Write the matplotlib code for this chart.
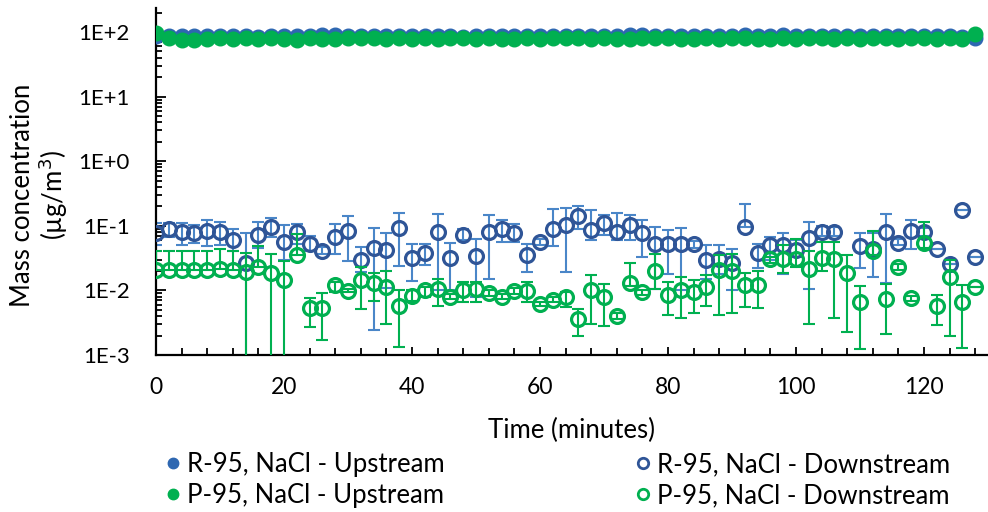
import numpy as np
import matplotlib.pyplot as plt
from matplotlib.lines import Line2D
from matplotlib.ticker import FixedLocator, FuncFormatter, LogLocator, MultipleLocator, NullFormatter

plt.rcParams['font.family'] = ['Lato', 'DejaVu Sans']

# time (minutes)
time = [0, 2, 4, 6, 8, 10, 12, 14, 16, 18, 20, 22, 24, 26, 28, 30, 32, 34, 36, 38,
        40, 42, 44, 46, 48, 50, 52, 54, 56, 58, 60, 62, 64, 66, 68, 70, 72, 74, 76, 78,
        80, 82, 84, 86, 88, 90, 92, 94, 96, 98, 100, 102, 104, 106, 108, 110, 112, 114, 116, 118,
        120, 122, 124, 126, 128]

# upstream mass concentration (ug/m3)
r_up = [88, 86, 87, 88, 86, 87, 88, 86, 85, 87, 86, 88, 87, 89, 90, 88, 87, 86, 88, 87,
        86, 87, 88, 86, 85, 87, 86, 88, 87, 86, 87, 86, 88, 87, 86, 87, 88, 90, 89, 87,
        88, 86, 87, 88, 86, 87, 90, 88, 87, 89, 88, 87, 86, 88, 87, 86, 87, 88, 86, 87,
        86, 88, 86, 84, 80]
p_up = [95, 82, 76, 75, 78, 80, 78, 80, 79, 81, 78, 76, 80, 79, 77, 80, 82, 80, 79, 80,
        78, 80, 79, 80, 81, 79, 80, 79, 78, 80, 79, 80, 81, 80, 79, 80, 77, 79, 80, 81,
        80, 79, 78, 80, 79, 80, 81, 78, 77, 80, 79, 80, 81, 79, 80, 79, 80, 81, 79, 80,
        81, 79, 80, 78, 92]
r_up_err = [5] * 65
p_up_err = [9] * 65

# downstream: value, upper end and lower end of the error bar
r_dn = [0.077, 0.088, 0.079, 0.077, 0.083, 0.081, 0.060, 0.027, 0.072, 0.097,
        0.057, 0.081, 0.052, 0.040, 0.068, 0.084, 0.030, 0.046, 0.042, 0.091,
        0.032, 0.038, 0.081, 0.032, 0.072, 0.034, 0.081, 0.088, 0.078, 0.035,
        0.057, 0.088, 0.103, 0.143, 0.086, 0.112, 0.081, 0.103, 0.077, 0.052,
        0.052, 0.052, 0.052, 0.030, 0.031, 0.027, 0.097, 0.038, 0.051, 0.051,
        0.042, 0.064, 0.081, 0.081, np.nan, 0.049, 0.043, 0.081, 0.055, 0.084,
        0.081, 0.043, 0.026, 0.176, 0.033]
r_hi = [0.109, 0.110, 0.112, 0.103, 0.123, 0.116, 0.088, 0.077, 0.116, 0.130,
        0.103, 0.105, 0.070, 0.047, 0.105, 0.141, 0.047, 0.091, 0.077, 0.155,
        0.052, 0.053, 0.151, 0.055, 0.088, 0.062, 0.147, 0.125, 0.105, 0.053,
        0.063, 0.180, 0.186, 0.200, 0.175, 0.147, 0.159, 0.147, 0.123, 0.097,
        0.086, 0.091, 0.058, 0.050, 0.050, 0.043, 0.216, 0.053, 0.068, 0.078,
        0.060, 0.116, 0.100, 0.095, np.nan, 0.077, 0.078, 0.151, 0.062, 0.125,
        0.092, 0.043, 0.026, 0.176, 0.033]
r_lo = [0.050, 0.066, 0.050, 0.055, 0.048, 0.050, 0.040, 0.0004, 0.045, 0.068,
        0.030, 0.053, 0.040, 0.036, 0.036, 0.029, 0.019, 0.0024, 0.011, 0.024,
        0.014, 0.025, 0.010, 0.010, 0.060, 0.008, 0.015, 0.057, 0.057, 0.019,
        0.051, 0.049, 0.019, 0.088, 0.060, 0.072, 0.060, 0.060, 0.033, 0.0105,
        0.018, 0.010, 0.046, 0.015, 0.018, 0.010, 0.097, 0.022, 0.030, 0.018,
        0.033, 0.0105, 0.070, 0.070, np.nan, 0.022, 0.016, 0.013, 0.050, 0.043,
        0.070, 0.043, 0.026, 0.176, 0.033]

p_dn = [0.0207, 0.0207, 0.0207, 0.0207, 0.0207, 0.0215, 0.0207, 0.0190, 0.0233, 0.0183,
        0.0145, 0.0355, 0.0053, 0.0053, 0.0121, 0.0099, 0.0145, 0.0129, 0.0112, 0.0057,
        0.0082, 0.0101, 0.0104, 0.0080, 0.0101, 0.0104, 0.0090, 0.0080, 0.0099, 0.0099,
        0.0062, 0.0071, 0.0080, 0.0036, 0.0101, 0.0078, 0.0040, 0.0129, 0.0093, 0.0200,
        0.0085, 0.0101, 0.0095, 0.0114, 0.0207, 0.0202, 0.0121, 0.0123, 0.0303, 0.0303,
        0.0303, 0.0212, 0.0314, 0.0303, 0.0188, 0.0065, 0.0407, 0.0073, 0.0233, 0.0075,
        0.0536, 0.0057, 0.0160, 0.0065, 0.0114]
p_hi = [0.041, 0.041, 0.041, 0.041, 0.041, 0.043, 0.041, 0.038, 0.049, 0.037,
        0.029, 0.075, 0.0077, 0.0090, 0.0136, 0.0105, 0.0233, 0.0183, 0.0200, 0.0101,
        0.0101, 0.0114, 0.0148, 0.0088, 0.0136, 0.0136, 0.0100, 0.0088, 0.0110, 0.0136,
        0.0066, 0.0078, 0.0093, 0.0051, 0.0173, 0.0126, 0.0044, 0.0268, 0.0100, 0.0372,
        0.0136, 0.0159, 0.0145, 0.0173, 0.0355, 0.0366, 0.0187, 0.0202, 0.0330, 0.0505,
        0.0617, 0.0400, 0.0565, 0.0565, 0.0355, 0.0117, 0.0840, 0.0124, 0.0260, 0.0082,
        0.116, 0.0085, 0.0296, 0.0121, 0.0114]
p_lo = [0.0207, 0.0207, 0.0207, 0.0207, 0.0207, 0.0215, 0.0207, 0.0004, 0.0233, 0.0004,
        0.0004, 0.0355, 0.0027, 0.0017, 0.0093, 0.0093, 0.0052, 0.0069, 0.0030, 0.00135,
        0.0068, 0.0080, 0.0057, 0.0073, 0.0067, 0.0067, 0.0082, 0.0073, 0.0088, 0.0067,
        0.0057, 0.0065, 0.0056, 0.0020, 0.0030, 0.0028, 0.0036, 0.0118, 0.0086, 0.0105,
        0.0042, 0.0037, 0.0044, 0.0057, 0.0042, 0.0045, 0.0056, 0.0054, 0.0270, 0.0183,
        0.0233, 0.0030, 0.0200, 0.0037, 0.0023, 0.00122, 0.0350, 0.0021, 0.0210, 0.0069,
        0.045, 0.0029, 0.0020, 0.00127, 0.0114]

labels = ['R-95, NaCl - Upstream', 'P-95, NaCl - Upstream',
          'R-95, NaCl - Downstream', 'P-95, NaCl - Downstream']

blue_up = '#2E67B1'
blue_dn = '#2F5597'
blue_bar = '#4A86C8'
green = '#00B050'

r_dn_a, r_hi_a, r_lo_a = np.array(r_dn), np.array(r_hi), np.array(r_lo)
p_dn_a, p_hi_a, p_lo_a = np.array(p_dn), np.array(p_hi), np.array(p_lo)

fig = plt.figure(figsize=(9.88, 5.12), dpi=100)
ax = fig.add_axes([156 / 988, 1 - 355 / 512, 832 / 988, 347 / 512])

# upstream
ax.errorbar(time, r_up, yerr=r_up_err, fmt='none', ecolor=blue_bar, elinewidth=1.4, capsize=4, capthick=1.4, zorder=2)
ax.plot(time, r_up, 'o', ms=10.5, mfc=blue_up, mec=blue_up, zorder=3)
ax.errorbar(time, p_up, yerr=p_up_err, fmt='none', ecolor=green, elinewidth=1.4, capsize=4, capthick=1.4, zorder=4)
ax.plot(time, p_up, 'o', ms=10.5, mfc=green, mec=green, zorder=5)

# downstream
ax.errorbar(time, r_dn, yerr=[r_dn_a - r_lo_a, r_hi_a - r_dn_a], fmt='none', ecolor=blue_bar,
            elinewidth=1.5, capsize=4.5, capthick=1.5, zorder=2)
ax.plot(time, r_dn, 'o', ms=10, mfc='none', mec=blue_dn, mew=2.3, zorder=3)
ax.errorbar(time, p_dn, yerr=[p_dn_a - p_lo_a, p_hi_a - p_dn_a], fmt='none', ecolor=green,
            elinewidth=1.5, capsize=4.5, capthick=1.5, zorder=4)
ax.plot(time, p_dn, 'o', ms=10, mfc='none', mec=green, mew=2.3, zorder=5)

ax.set_yscale('log')
ax.set_ylim(1e-3, 235)
ax.set_xlim(0, 130)

ax.yaxis.set_major_locator(FixedLocator([1e-3, 1e-2, 1e-1, 1, 10, 100]))
ax.yaxis.set_major_formatter(FuncFormatter(lambda v, p: '1E%+d' % round(np.log10(v))))
ax.yaxis.set_minor_locator(LogLocator(base=10, subs=np.arange(2, 10)))
ax.yaxis.set_minor_formatter(NullFormatter())
ax.xaxis.set_major_locator(MultipleLocator(20))
ax.xaxis.set_minor_locator(MultipleLocator(4))

ax.spines['top'].set_visible(False)
ax.spines['right'].set_visible(False)
ax.spines['left'].set_linewidth(1.6)
ax.spines['bottom'].set_linewidth(1.6)
ax.tick_params(which='both', direction='in', width=1.3, colors='black')
ax.tick_params(axis='y', which='major', length=7, pad=19, labelsize=16)
ax.tick_params(axis='y', which='minor', length=4.5)
ax.tick_params(axis='x', which='major', length=6, pad=16, labelsize=16.5)
ax.tick_params(axis='x', which='minor', length=5)

ax.set_xlabel('Time (minutes)', fontsize=18.5)
ax.xaxis.set_label_coords(0.5, -0.18)
ax.set_ylabel('Mass concentration\n(µg/m$^3$)', fontsize=18.5, linespacing=1.05)
ax.yaxis.set_label_coords(-0.103, 0.46)

handles = [
    Line2D([], [], ls='none', marker='o', ms=7.5, mfc=blue_up, mec=blue_up),
    Line2D([], [], ls='none', marker='o', ms=7.5, mfc=green, mec=green),
    Line2D([], [], ls='none', marker='o', ms=7.5, mfc='none', mec=blue_dn, mew=2),
    Line2D([], [], ls='none', marker='o', ms=7.5, mfc='none', mec=green, mew=2),
]
fig.legend(handles, labels, ncol=2, loc='upper left', bbox_to_anchor=(155 / 988, 1 - 442 / 512),
           frameon=False, fontsize=18.5, handlelength=0.6, handletextpad=0.25,
           columnspacing=7.4, labelspacing=0.22, borderaxespad=0)

fig.savefig('out.png', dpi=100)
